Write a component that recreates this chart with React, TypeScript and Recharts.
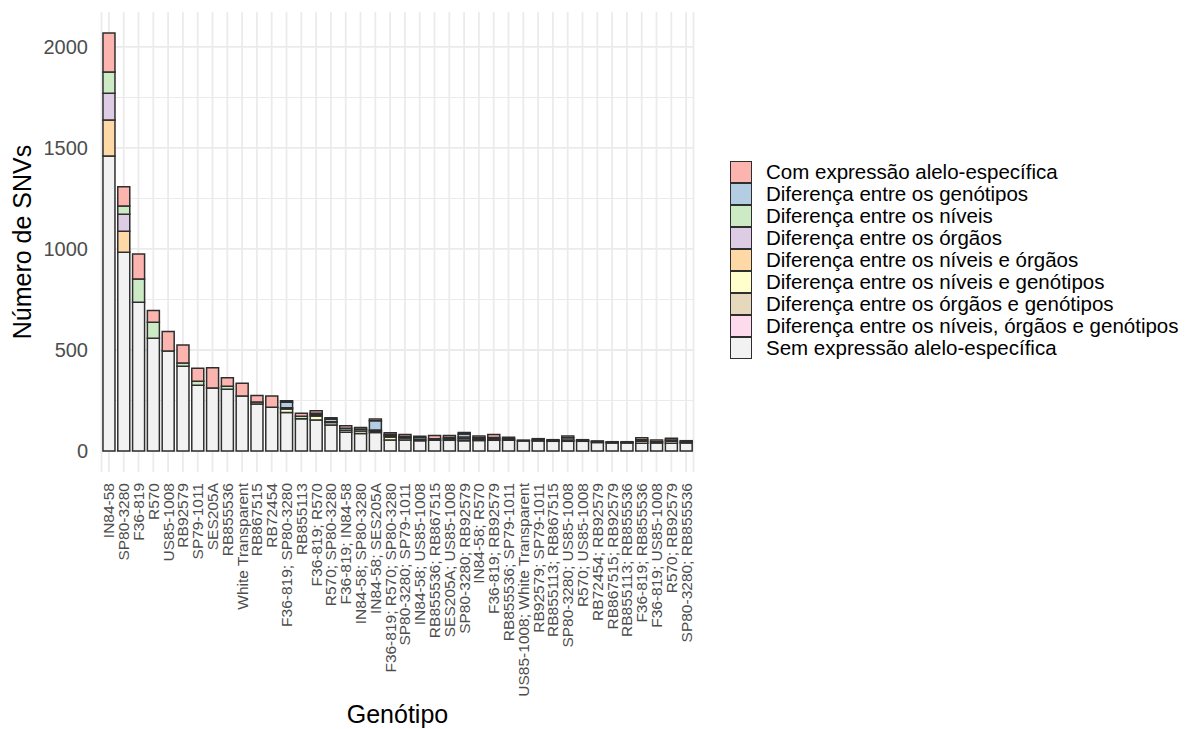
import React from 'react';
import { BarChart, Bar, XAxis, YAxis, CartesianGrid, Legend } from 'recharts';

const genotipos = [
  'IN84-58', 'SP80-3280', 'F36-819', 'R570', 'US85-1008', 'RB92579', 'SP79-1011', 'SES205A',
  'RB855536', 'White Transparent', 'RB867515', 'RB72454', 'F36-819; SP80-3280', 'RB855113',
  'F36-819; R570', 'R570; SP80-3280', 'F36-819; IN84-58', 'IN84-58; SP80-3280', 'IN84-58; SES205A',
  'F36-819; R570; SP80-3280', 'SP80-3280; SP79-1011', 'IN84-58; US85-1008', 'RB855536; RB867515',
  'SES205A; US85-1008', 'SP80-3280; RB92579', 'IN84-58; R570', 'F36-819; RB92579',
  'RB855536; SP79-1011', 'US85-1008; White Transparent', 'RB92579; SP79-1011',
  'RB855113; RB867515', 'SP80-3280; US85-1008', 'R570; US85-1008', 'RB72454; RB92579',
  'RB867515; RB92579', 'RB855113; RB855536', 'F36-819; RB855536', 'F36-819; US85-1008',
  'R570; RB92579', 'SP80-3280; RB855536',
];

// valores por categoria (de baixo para cima na pilha)
const semExpressao = [1460, 984, 736, 558, 495, 420, 325, 312, 305, 272, 232, 216, 190, 160, 153, 129, 93, 87, 91, 54, 54, 51, 53, 53, 51, 52, 53, 53, 50, 50, 48, 48, 48, 42, 40, 40, 38, 40, 38, 40];
const difNiveisOrgaosGenotipos = [0, 0, 0, 0, 0, 0, 0, 0, 0, 0, 0, 0, 0, 0, 0, 0, 0, 0, 0, 0, 0, 0, 0, 0, 0, 0, 0, 0, 0, 0, 0, 0, 0, 0, 0, 0, 0, 0, 0, 0];
const difOrgaosGenotipos = [0, 0, 0, 0, 0, 0, 0, 0, 0, 0, 0, 0, 0, 0, 0, 0, 0, 0, 8, 0, 0, 0, 0, 0, 10, 0, 0, 0, 0, 0, 0, 0, 0, 0, 0, 0, 0, 0, 0, 0];
const difNiveisGenotipos = [0, 0, 0, 0, 0, 0, 0, 0, 0, 0, 0, 0, 18, 0, 20, 12, 0, 12, 0, 15, 0, 0, 0, 0, 8, 6, 6, 0, 0, 0, 0, 0, 0, 0, 0, 0, 10, 0, 10, 0];
const difNiveisOrgaos = [179, 104, 0, 0, 0, 0, 0, 0, 0, 0, 0, 0, 0, 0, 0, 0, 0, 0, 0, 0, 0, 0, 0, 0, 0, 0, 0, 0, 0, 0, 0, 0, 0, 0, 0, 0, 0, 0, 0, 0];
const difOrgaos = [132, 84, 0, 0, 0, 0, 0, 0, 0, 0, 0, 0, 0, 0, 0, 0, 0, 0, 0, 0, 0, 0, 0, 0, 0, 0, 0, 0, 0, 0, 0, 0, 0, 0, 0, 0, 0, 0, 0, 0];
const difNiveis = [105, 41, 115, 79, 0, 15, 20, 0, 16, 0, 10, 0, 6, 12, 8, 4, 10, 8, 5, 8, 10, 6, 8, 6, 0, 8, 8, 7, 0, 5, 4, 6, 4, 4, 3, 3, 8, 6, 7, 5];
const difGenotipos = [0, 0, 0, 0, 0, 0, 0, 0, 0, 0, 0, 0, 27, 0, 6, 12, 10, 0, 46, 5, 8, 10, 0, 8, 15, 0, 0, 0, 0, 0, 0, 12, 0, 0, 0, 0, 0, 0, 0, 0];
const comExpressao = [193, 95, 124, 58, 96, 90, 64, 100, 42, 63, 33, 56, 8, 15, 12, 8, 12, 9, 8, 8, 10, 6, 16, 10, 8, 8, 15, 8, 4, 6, 4, 8, 4, 4, 3, 3, 10, 8, 8, 6];

const yTicks = [0, 500, 1000, 1500, 2000];
const yMinor = [250, 750, 1250, 1750];

// ordem da pilha: primeiro = base
const series = [
  { key: 'sem', name: 'Sem expressão alelo-específica', color: '#F2F2F2', values: semExpressao },
  { key: 'nog', name: 'Diferença entre os níveis, órgãos e genótipos', color: '#FDDAEC', values: difNiveisOrgaosGenotipos },
  { key: 'og', name: 'Diferença entre os órgãos e genótipos', color: '#E5D8BD', values: difOrgaosGenotipos },
  { key: 'ng', name: 'Diferença entre os níveis e genótipos', color: '#FFFFCC', values: difNiveisGenotipos },
  { key: 'no', name: 'Diferença entre os níveis e órgãos', color: '#FED9A6', values: difNiveisOrgaos },
  { key: 'o', name: 'Diferença entre os órgãos', color: '#DECBE4', values: difOrgaos },
  { key: 'n', name: 'Diferença entre os níveis', color: '#CCEBC5', values: difNiveis },
  { key: 'g', name: 'Diferença entre os genótipos', color: '#B3CDE3', values: difGenotipos },
  { key: 'com', name: 'Com expressão alelo-específica', color: '#FBB4AE', values: comExpressao },
];

const chartData = genotipos.map((g, i) => {
  const row: Record<string, string | number> = { genotipo: g };
  series.forEach((s) => {
    row[s.key] = s.values[i];
  });
  return row;
});

const FONT = '"Liberation Sans", Arial, Helvetica, sans-serif';
const OUTLINE = '#2e2e2e';

const XTick = (props: any) => {
  const { x, y, payload } = props;
  return (
    <text
      x={x}
      y={y}
      transform={`rotate(-90, ${x}, ${y})`}
      textAnchor="end"
      dominantBaseline="central"
      fontSize={15.5}
      fill="#4D4D4D"
      fontFamily={FONT}
    >
      {payload.value}
    </text>
  );
};

const YTick = (props: any) => {
  const { x, y, payload } = props;
  return (
    <text x={x} y={y} textAnchor="end" dominantBaseline="central" fontSize={20} fill="#4D4D4D" fontFamily={FONT}>
      {payload.value}
    </text>
  );
};

const LegendBox = () => (
  <div style={{ fontFamily: FONT, fontSize: 20.5, color: '#000' }}>
    {[...series].reverse().map((s) => (
      <div key={s.key} style={{ display: 'flex', alignItems: 'center', height: 22 }}>
        <div
          style={{
            width: 22,
            height: 22,
            boxSizing: 'border-box',
            background: s.color,
            border: `1.5px solid ${OUTLINE}`,
            marginRight: 14,
          }}
        />
        <span style={{ whiteSpace: 'nowrap', lineHeight: '22px' }}>{s.name}</span>
      </div>
    ))}
  </div>
);

export default function App() {
  return (
    <div style={{ position: 'absolute', left: 0, top: 0, background: '#fff' }}>
      <BarChart
        width={1191}
        height={729}
        data={chartData}
        margin={{ top: 12, right: 497.5, left: 0, bottom: 0 }}
        barCategoryGap="10%"
      >
        <CartesianGrid horizontalValues={yMinor} vertical={false} stroke="#EBEBEB" strokeWidth={1} />
        <CartesianGrid horizontalValues={yTicks} stroke="#EBEBEB" strokeWidth={1.8} />
        <XAxis
          dataKey="genotipo"
          type="category"
          interval={0}
          height={257}
          tickSize={0}
          tickMargin={11}
          tickLine={false}
          axisLine={false}
          tick={<XTick />}
          label={(p: any) => {
            const vb = p.viewBox;
            return (
              <text x={vb.x + vb.width / 2} y={vb.y + 251} textAnchor="middle" fontSize={25} fill="#000" fontFamily={FONT}>
                Genótipo
              </text>
            );
          }}
        />
        <YAxis
          type="number"
          domain={[-104, 2173]}
          ticks={yTicks}
          allowDataOverflow
          width={101.5}
          tickSize={0}
          tickMargin={13.5}
          tickLine={false}
          axisLine={false}
          tick={<YTick />}
          label={(p: any) => {
            const vb = p.viewBox;
            const cy = vb.y + vb.height / 2;
            return (
              <text
                x={22}
                y={cy}
                transform={`rotate(-90, 22, ${cy})`}
                textAnchor="middle"
                dominantBaseline="central"
                fontSize={25}
                fill="#000"
                fontFamily={FONT}
              >
                Número de SNVs
              </text>
            );
          }}
        />
        <Legend
          layout="vertical"
          align="center"
          verticalAlign="middle"
          content={<LegendBox />}
          wrapperStyle={{ left: 730, top: 161, width: 460 }}
        />
        {series.map((s) => (
          <Bar
            key={s.key}
            dataKey={s.key}
            name={s.name}
            stackId="snv"
            fill={s.color}
            stroke={OUTLINE}
            strokeWidth={1.5}
            isAnimationActive={false}
          />
        ))}
      </BarChart>
    </div>
  );
}
